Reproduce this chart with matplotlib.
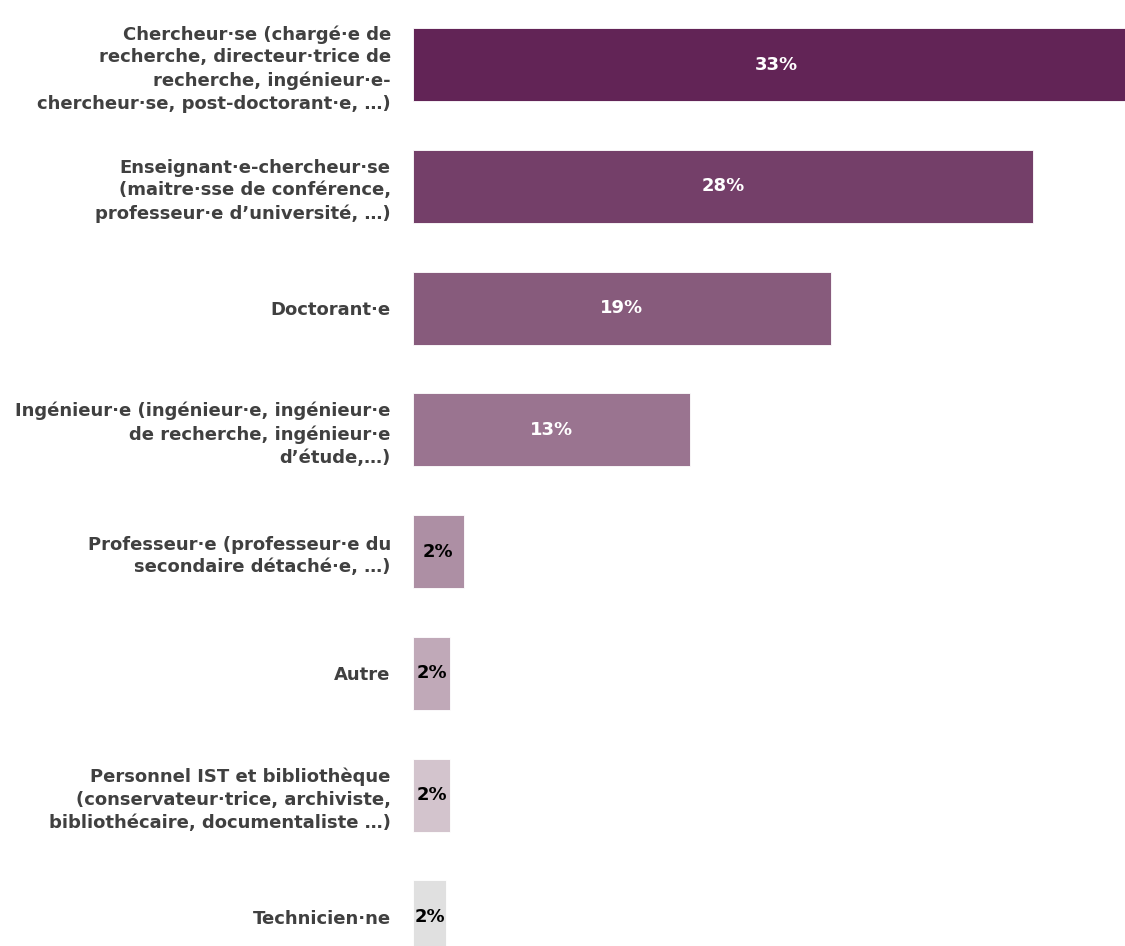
import matplotlib.pyplot as plt

categories = [
    "Chercheur·se (chargé·e de\nrecherche, directeur·trice de\nrecherche, ingénieur·e-\nchercheur·se, post-doctorant·e, …)",
    "Enseignant·e-chercheur·se\n(maitre·sse de conférence,\nprofesseur·e d’université, …)",
    "Doctorant·e",
    "Ingénieur·e (ingénieur·e, ingénieur·e\nde recherche, ingénieur·e\nd’étude,…)",
    "Professeur·e (professeur·e du\nsecondaire détaché·e, …)",
    "Autre",
    "Personnel IST et bibliothèque\n(conservateur·trice, archiviste,\nbibliothécaire, documentaliste …)",
    "Technicien·ne",
]
shares = [33.0, 28.2, 19.0, 12.6, 2.3, 1.7, 1.7, 1.5]
colors = ["#622456", "#743f69", "#875b7c", "#9a7490", "#ad8fa4",
          "#c0a9b8", "#d3c4cd", "#e0e0e0"]

plt.rcParams['font.family'] = ['DejaVu Sans']

fig = plt.figure(figsize=(11.25, 9.46), dpi=100)
ax = fig.add_axes([413 / 1125, 0, 1 - 413 / 1125, 1])

ypos = list(range(len(shares)))
ax.barh(ypos, shares, height=0.6, color=colors, edgecolor="white", linewidth=0.6)

# percentage inside each bar, white on the dark ones
for y, v in zip(ypos, shares):
    txt_color = "white" if v > 10 else "black"
    ax.text(v / 2, y, f"{v:.0f}%", ha="center", va="center",
            fontsize=13, fontweight="bold", color=txt_color)

ax.set_yticks(ypos)
ax.set_yticklabels(categories, fontsize=13, fontweight="bold", color="#404040",
                   linespacing=1.35)
ax.tick_params(axis="y", length=0, pad=16)
ax.set_xticks([])
ax.set_xlim(0, 712 / 22)
ax.set_ylim(7.24, -0.53)
for s in ax.spines.values():
    s.set_visible(False)

fig.savefig("out.png", dpi=100)
